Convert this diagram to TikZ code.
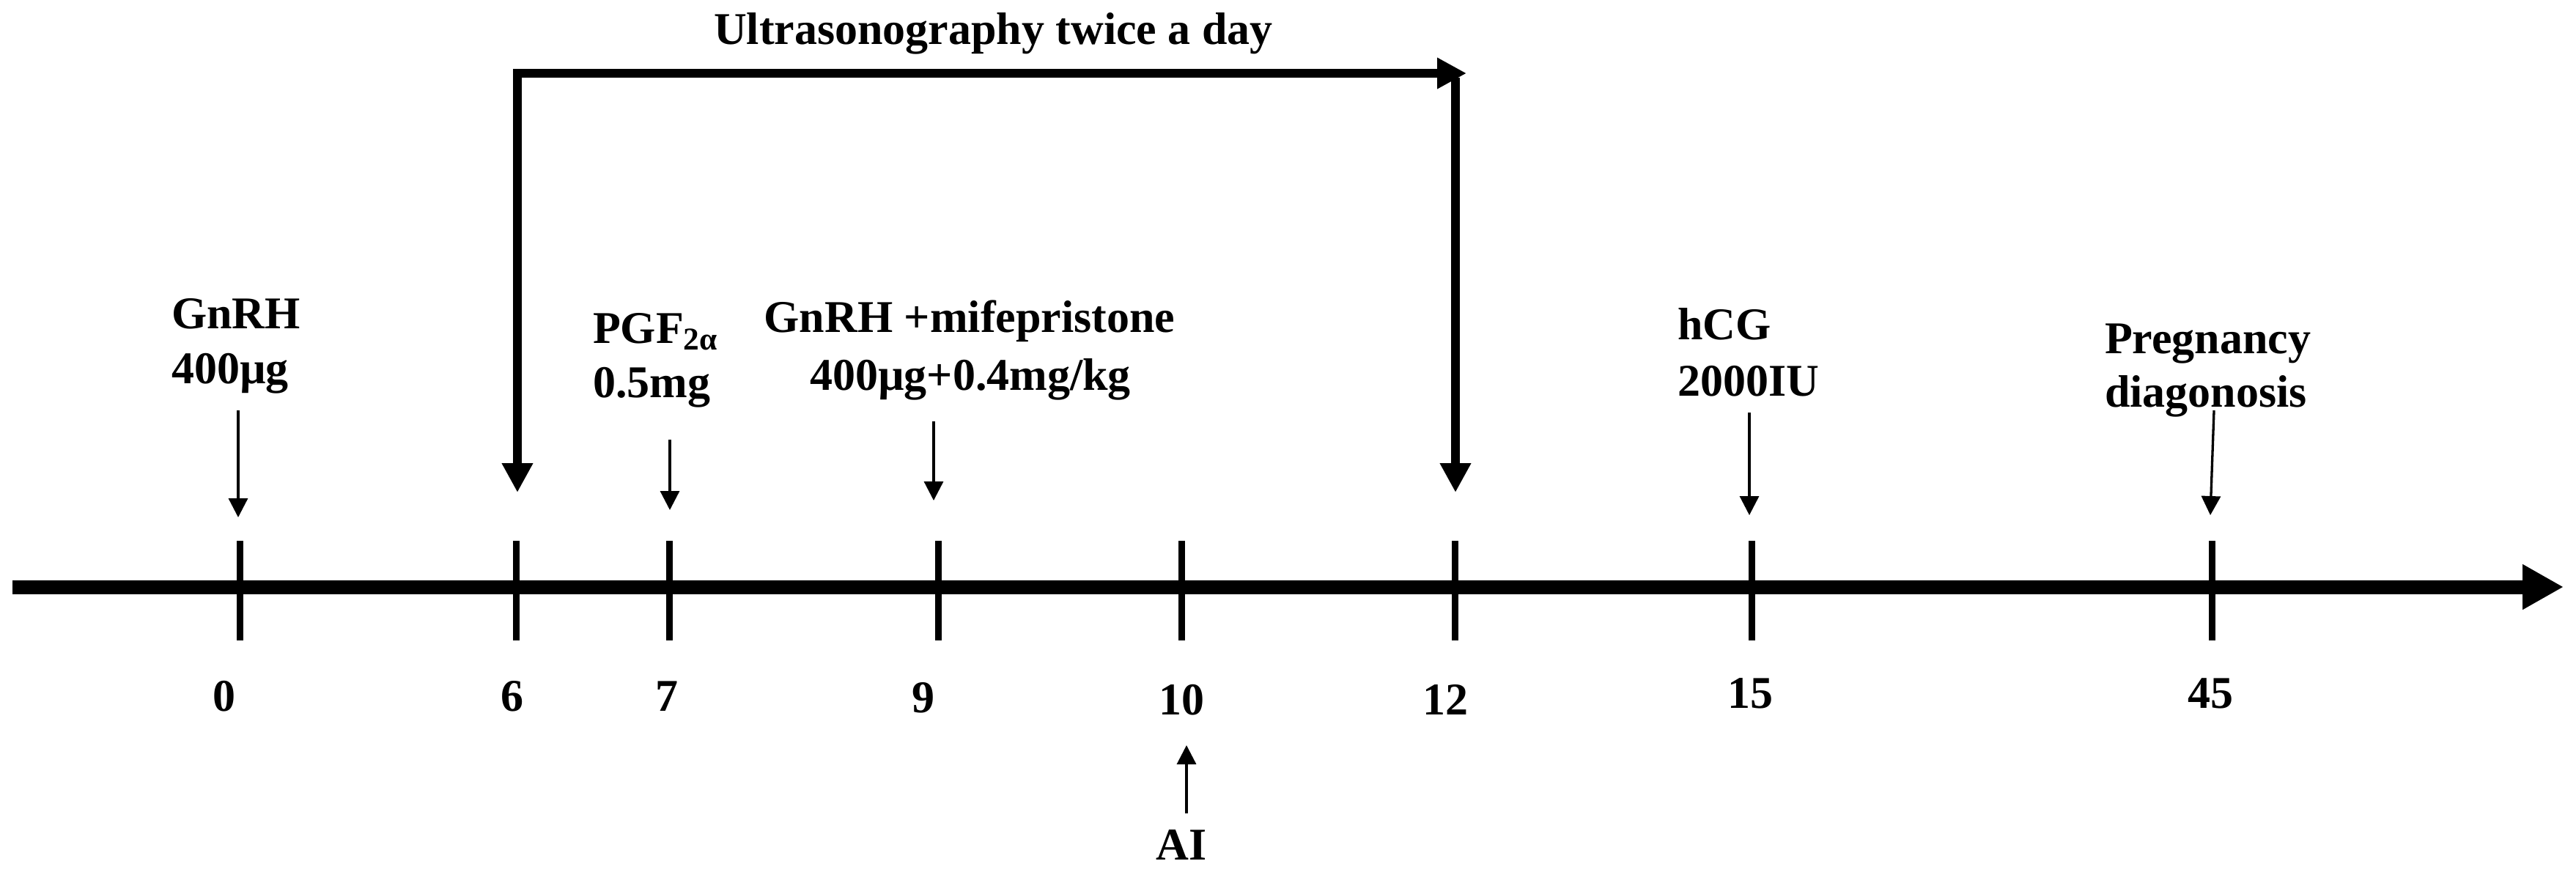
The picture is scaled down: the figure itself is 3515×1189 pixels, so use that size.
\documentclass[tikz,border=0pt]{standalone}
\usepackage{fontspec}
\setmainfont{Liberation Serif}
\usetikzlibrary{arrows.meta}
\tikzset{
  lbl/.style={inner sep=0pt, font=\fontsize{12.4pt}{14pt}\selectfont\bfseries},
  axisline/.style={line width=3.8pt, -{Triangle[length=11.2pt,width=11.6pt]}},
  tickline/.style={line width=1.8pt},
  thinarrow/.style={line width=0.66pt, -{Triangle[length=5.2pt,width=5.2pt]}},
  thickarrow/.style={line width=2.5pt, -{Triangle[length=8pt,width=8pt]}},
}
\begin{document}
\begin{tikzpicture}[x=0.2pt,y=-0.2pt]
\useasboundingbox (0,0) rectangle (3515,1189);
% axis
\coordinate (axs) at (17,801);
\coordinate (axe) at (3498,801);
\draw[axisline] (axs) -- (axe);
% ticks
\foreach \n/\x in {t0/327,t6/704,t7/913,t9/1280,t10/1612,t12/1985,t15/2390,t45/3018}{
  \coordinate (\n a) at (\x,738);
  \coordinate (\n b) at (\x,874);
  \draw[tickline] (\n a) -- (\n b);
}
% tick labels
\node[lbl,anchor=base] (n0) at (306,970) {0};
\node[lbl,anchor=base] (n6) at (699,970) {6};
\node[lbl,anchor=base] (n7) at (910,970) {7};
\node[lbl,anchor=base] (n9) at (1260,972) {9};
\node[lbl,anchor=base] (n10) at (1612,975) {10};
\node[lbl,anchor=base] (n12) at (1972,975) {12};
\node[lbl,anchor=base] (n15) at (2388,966) {15};
\node[lbl,anchor=base] (n45) at (3016,966) {45};
% event labels
\node[lbl,anchor=base west] (g1) at (233,448) {GnRH};
\node[lbl,anchor=base west] (g2) at (233,523) {400µg};
\node[lbl,anchor=base west] (p1) at (808,468) {PGF\textsubscript{2α}};
\node[lbl,anchor=base west] (p2) at (808,542) {0.5mg};
\node[lbl,anchor=base] (m1) at (1323,453) {GnRH +mifepristone};
\node[lbl,anchor=base] (m2) at (1324,532) {400µg+0.4mg/kg};
\node[lbl,anchor=base west] (h1) at (2288,463) {hCG};
\node[lbl,anchor=base west] (h2) at (2288,540) {2000IU};
\node[lbl,anchor=base west] (r1) at (2871,482) {Pregnancy};
\node[lbl,anchor=base west] (r2) at (2871,555) {diagonosis};
\node[lbl,anchor=base west] (us) at (973,60) {Ultrasonography twice a day};
\node[lbl,anchor=base] (ai) at (1612,1173) {AI};
% thin arrows
\coordinate (e0s) at (325,560);   \coordinate (e0e) at (325,706);
\coordinate (e7s) at (914,600);   \coordinate (e7e) at (914,696);
\coordinate (e9s) at (1274,575);  \coordinate (e9e) at (1274,683);
\coordinate (e15s) at (2387,563); \coordinate (e15e) at (2387,703);
\coordinate (e45s) at (3021,560); \coordinate (e45e) at (3016,703);
\coordinate (eais) at (1619,1110);\coordinate (eaie) at (1619,1017);
\foreach \n in {e0,e7,e9,e15,e45,eai}{
  \draw[thinarrow] (\n s) -- (\n e);
}
% ultrasonography bracket
\coordinate (uL) at (706,94);
\coordinate (uLt) at (706,672);
\coordinate (uH) at (700,100);
\coordinate (uHt) at (2001,100);
\coordinate (uR) at (1986,106);
\coordinate (uRt) at (1986,672);
\draw[thickarrow] (uL) -- (uLt);
\draw[thickarrow] (uH) -- (uHt);
\draw[thickarrow] (uR) -- (uRt);
\end{tikzpicture}
\end{document}
